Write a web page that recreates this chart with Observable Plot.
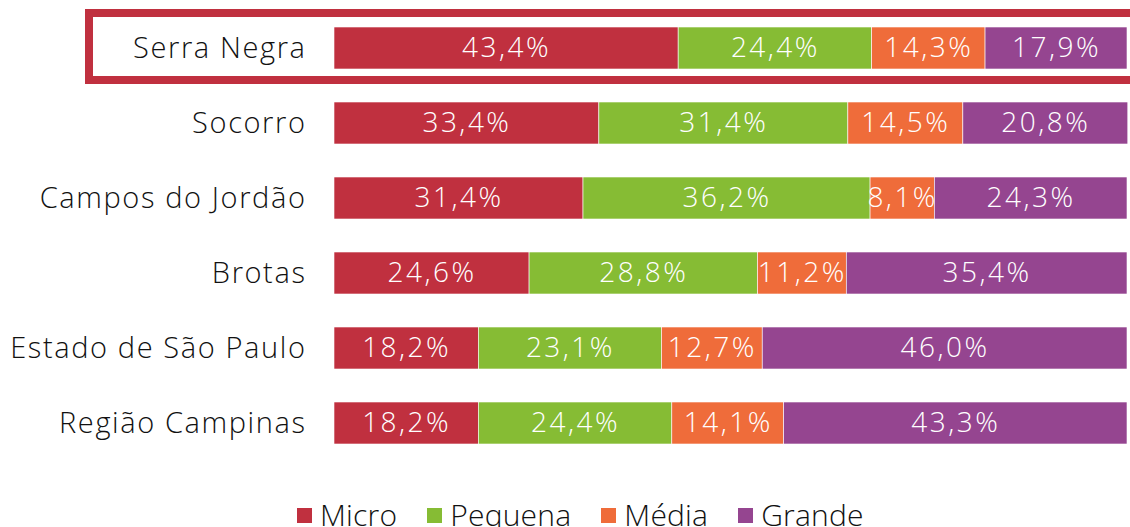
<!DOCTYPE html>
<html>
<head>
<meta charset="utf-8">
<script src="https://cdn.jsdelivr.net/npm/d3@7"></script>
<script src="https://cdn.jsdelivr.net/npm/@observablehq/plot@0.6"></script>
<style>
  html, body { margin: 0; padding: 0; background: #fff; overflow: hidden; }
  body { width: 1130px; height: 527px; font-family: "Open Sans", sans-serif; }
  #legend { position: relative; height: 67px; font-size: 30px; font-weight: 300; color: #111; letter-spacing: 0.2px; }
  #legend .item { position: absolute; top: 40px; display: flex; align-items: flex-start; line-height: 30px; white-space: nowrap; }
  #legend .sw { width: 15px; height: 15px; margin-right: 8px; margin-top: 8px; }
</style>
</head>
<body>
<div id="chart"></div>
<div id="legend"></div>
<script>
const regions = ["Serra Negra", "Socorro", "Campos do Jordão", "Brotas", "Estado de São Paulo", "Região Campinas"];
const sizes = ["Micro", "Pequena", "Média", "Grande"];
const colors = ["#C0303F", "#86BC34", "#EF6C3A", "#954590"];
const micro   = [43.4, 33.4, 31.4, 24.6, 18.2, 18.2];
const pequena = [24.4, 31.4, 36.2, 28.8, 23.1, 24.4];
const media   = [14.3, 14.5, 8.1, 11.2, 12.7, 14.1];
const grande  = [17.9, 20.8, 24.3, 35.4, 46.0, 43.3];
const highlighted = "Serra Negra";

const series = [micro, pequena, media, grande];
const data = [];
regions.forEach((r, i) => sizes.forEach((s, j) => data.push({region: r, size: s, value: series[j][i]})));

const fmt = v => v.toFixed(1).replace(".", ",") + "%";

const plot = Plot.plot({
  width: 1130,
  height: 460,
  marginLeft: 334,
  marginRight: 3,
  marginTop: 27,
  marginBottom: 16,
  style: {fontFamily: "'Open Sans', sans-serif", background: "white", fontWeight: 300},
  x: {domain: [0, 100], axis: null},
  y: {domain: regions, paddingInner: 0.44, paddingOuter: 0, label: null},
  color: {domain: sizes, range: colors},
  marks: [
    Plot.rect([highlighted], {
      x1: () => 0, x2: () => 100, y: d => d,
      fill: "none", stroke: "#C0303F", strokeWidth: 8,
      insetLeft: -245, insetRight: -12, insetTop: -14, insetBottom: -11
    }),
    Plot.barX(data, Plot.stackX({x: "value", y: "region", z: "size", fill: "size", order: sizes, stroke: "white", strokeWidth: 0.6})),
    Plot.text(data, Plot.stackX({x: "value", y: "region", z: "size", order: sizes, text: d => fmt(d.value), fill: "white", fontSize: 28})),
    Plot.axisY({tickSize: 0, tickPadding: 28, fontSize: 29, label: null, color: "#111"})
  ]
});
plot.querySelectorAll("g[aria-label='y-axis tick label'] text").forEach(t => t.style.letterSpacing = "1.6px");
plot.querySelectorAll("g[aria-label='text'] text").forEach(t => t.style.letterSpacing = "2.5px");
document.getElementById("chart").appendChild(plot);

const legend = document.getElementById("legend");
const items = sizes.map((s, i) => {
  const it = document.createElement("div");
  it.className = "item";
  it.innerHTML = `<span class="sw" style="background:${colors[i]}"></span><span>${s}</span>`;
  legend.appendChild(it);
  return it;
});
const gap = 30;
const widths = items.map(it => it.getBoundingClientRect().width);
let x = 297;
items.forEach((it, i) => { it.style.left = x + "px"; x += widths[i] + gap; });
</script>
</body>
</html>
